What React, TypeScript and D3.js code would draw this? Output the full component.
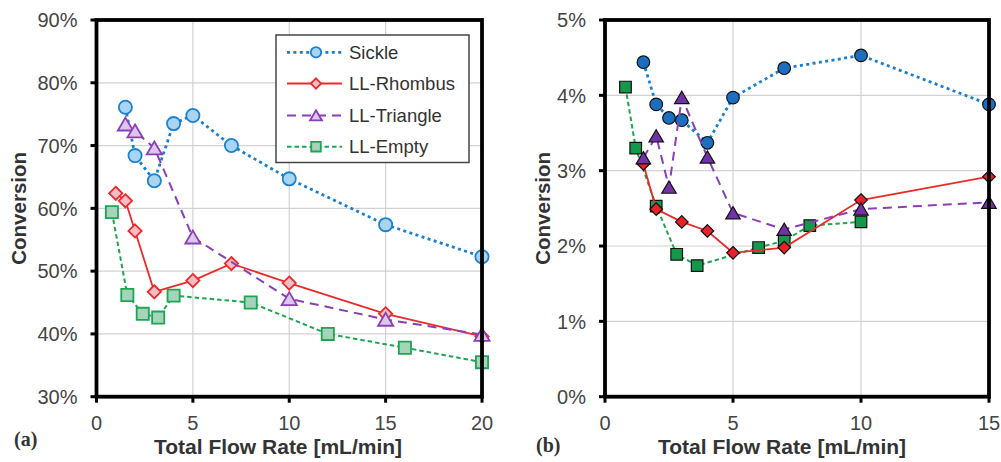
import * as d3 from 'd3';
import React from 'react';

// panel (a) values, conversion in %
const sickleAx = [1.5, 2, 3, 4, 5, 7, 10, 15, 20];
const sickleAy = [76.1, 68.4, 64.4, 73.5, 74.8, 70.0, 64.7, 57.4, 52.3];
const rhombusAx = [1, 1.5, 2, 3, 5, 7, 10, 15, 20];
const rhombusAy = [62.4, 61.2, 56.4, 46.7, 48.5, 51.2, 48.1, 43.2, 39.6];
const triangleAx = [1.5, 2, 3, 5, 10, 15, 20];
const triangleAy = [73.4, 72.3, 69.6, 55.4, 45.6, 42.3, 39.9];
const emptyAx = [0.8, 1.6, 2.4, 3.2, 4, 8, 12, 16, 20];
const emptyAy = [59.4, 46.2, 43.2, 42.6, 46.1, 45.0, 40.0, 37.8, 35.5];

// panel (b) values, conversion in %
const sickleBx = [1.5, 2, 2.5, 3, 4, 5, 7, 10, 15];
const sickleBy = [4.44, 3.88, 3.7, 3.67, 3.37, 3.97, 4.36, 4.53, 3.88];
const rhombusBx = [1.5, 2, 3, 4, 5, 7, 10, 15];
const rhombusBy = [3.09, 2.49, 2.32, 2.2, 1.91, 1.98, 2.61, 2.92];
const triangleBx = [1.5, 2, 2.5, 3, 4, 5, 7, 10, 15];
const triangleBy = [3.17, 3.46, 2.78, 3.97, 3.18, 2.44, 2.22, 2.49, 2.58];
const emptyBx = [0.8, 1.2, 2, 2.8, 3.6, 6, 7, 8, 10];
const emptyBy = [4.11, 3.3, 2.53, 1.89, 1.74, 1.98, 2.07, 2.27, 2.32];

const seriesNames = ['Sickle', 'LL-Rhombus', 'LL-Triangle', 'LL-Empty'];
const yTicksA = [30, 40, 50, 60, 70, 80, 90];
const xTicksA = [0, 5, 10, 15, 20];
const yTicksB = [0, 1, 2, 3, 4, 5];
const xTicksB = [0, 5, 10, 15];

const font = "'Liberation Sans', Arial, sans-serif";

const lineStyles = {
  Sickle: { stroke: '#1a7fcc', width: 2.8, dash: '3 3.4' },
  'LL-Rhombus': { stroke: '#ec2a2a', width: 1.8, dash: null },
  'LL-Triangle': { stroke: '#8a3fb8', width: 2, dash: '9 6' },
  'LL-Empty': { stroke: '#1fa552', width: 2, dash: '4.5 3' },
};

const lightMarkers = {
  Sickle: { fill: '#a9d5f2', stroke: '#1a82d0' },
  'LL-Rhombus': { fill: '#f7bcc6', stroke: '#ec2a2a' },
  'LL-Triangle': { fill: '#dcc6ec', stroke: '#8a3fb8' },
  'LL-Empty': { fill: '#a5d4bd', stroke: '#1fa552' },
};

const darkMarkers = {
  Sickle: { fill: '#1c6fc0', stroke: '#111' },
  'LL-Rhombus': { fill: '#e8212a', stroke: '#111' },
  'LL-Triangle': { fill: '#7232a6', stroke: '#111' },
  'LL-Empty': { fill: '#14994c', stroke: '#111' },
};

function markerPath(name, s) {
  if (name === 'Sickle') {
    return d3.symbol(d3.symbolCircle, Math.PI * s * s)();
  }
  if (name === 'LL-Rhombus') {
    return `M0,${-s}L${s},0L0,${s}L${-s},0Z`;
  }
  if (name === 'LL-Triangle') {
    const w = s * 1.15;
    return `M0,${-s}L${w},${s * 0.95}L${-w},${s * 0.95}Z`;
  }
  return `M${-s * 0.92},${-s * 0.92}H${s * 0.92}V${s * 0.92}H${-s * 0.92}Z`;
}

function Series({ name, xs, ys, x, y, markers, size, sw }) {
  const st = lineStyles[name];
  const pts = xs.map((v, i) => [x(v), y(ys[i])]);
  const line = d3.line()(pts);
  const mk = markers[name];
  const sym = markerPath(name, size);
  return (
    <g>
      <path d={line} fill="none" stroke={st.stroke} strokeWidth={st.width}
        strokeDasharray={st.dash || undefined} />
      {pts.map((p, i) => (
        <path key={i} d={sym} transform={`translate(${p[0]},${p[1]})`}
          fill={mk.fill} stroke={mk.stroke} strokeWidth={sw} />
      ))}
    </g>
  );
}

function Panel({ x, y, xTicks, yTicks, label, labelX, labelY, titleX, yTitleX, series, markers, size, sw, children }) {
  const [x0, x1] = x.range();
  const [y0, y1] = y.range();
  return (
    <g fontFamily={font}>
      {xTicks.slice(1, -1).map((t) => (
        <line key={'gx' + t} x1={x(t)} x2={x(t)} y1={y1} y2={y0} stroke="#d2d2d2" strokeWidth={1.2} />
      ))}
      {yTicks.slice(1, -1).map((t) => (
        <line key={'gy' + t} x1={x0} x2={x1} y1={y(t)} y2={y(t)} stroke="#d2d2d2" strokeWidth={1.2} />
      ))}
      {children}
      {series.map((s) => (
        <Series key={s.name} {...s} x={x} y={y} markers={markers} size={size} sw={sw} />
      ))}
      <rect x={x0} y={y1} width={x1 - x0} height={y0 - y1} fill="none" stroke="#000" strokeWidth={3.8} />
      {yTicks.map((t) => (
        <g key={'ty' + t}>
          <line x1={x0 - 6} x2={x0} y1={y(t)} y2={y(t)} stroke="#000" strokeWidth={3} />
          <text x={x0 - 19} y={y(t)} dy="0.36em" textAnchor="end" fontSize={20} fill="#444">{t}%</text>
        </g>
      ))}
      {xTicks.map((t) => (
        <g key={'tx' + t}>
          <line x1={x(t)} x2={x(t)} y1={y0} y2={y0 + 6} stroke="#000" strokeWidth={3} />
          <text x={x(t)} y={y0 + 33} textAnchor="middle" fontSize={20} fill="#444">{t}</text>
        </g>
      ))}
      <text x={titleX} y={454} textAnchor="middle" fontSize={21} fontWeight="bold" fill="#333">Total Flow Rate [mL/min]</text>
      <text transform={`translate(${yTitleX},${(y0 + y1) / 2}) rotate(-90)`} textAnchor="middle"
        fontSize={20.5} fontWeight="bold" fill="#333">Conversion</text>
      <text x={labelX} y={labelY} fontFamily="'Liberation Serif', 'Times New Roman', serif" fontWeight="bold"
        fontSize={20} fill="#333">{label}</text>
    </g>
  );
}

function Legend() {
  const x0 = 276;
  const y0 = 35;
  const rows = [52.3, 83.5, 115.5, 146.7];
  return (
    <g fontFamily={font}>
      <rect x={x0} y={y0} width={193} height={127.5} fill="#fff" stroke="#444" strokeWidth={1.5} />
      {seriesNames.map((n, i) => {
        const st = lineStyles[n];
        const mk = lightMarkers[n];
        return (
          <g key={n} transform={`translate(0,${rows[i]})`}>
            <line x1={287} x2={342} y1={0} y2={0} stroke={st.stroke} strokeWidth={st.width}
              strokeDasharray={st.dash || undefined} />
            <path d={markerPath(n, 5.2)} transform="translate(316,0)" fill={mk.fill} stroke={mk.stroke} strokeWidth={1.8} />
            <text x={349} y={0} dy="0.36em" fontSize={18.5} fill="#333">{n}</text>
          </g>
        );
      })}
    </g>
  );
}

export default function App() {
  const xA = d3.scaleLinear().domain([0, 20]).range([96.5, 482]);
  const yA = d3.scaleLinear().domain([30, 90]).range([396.7, 20]);
  const xB = d3.scaleLinear().domain([0, 15]).range([605, 989]);
  const yB = d3.scaleLinear().domain([0, 5]).range([396.7, 20]);

  const seriesA = [
    { name: 'LL-Empty', xs: emptyAx, ys: emptyAy },
    { name: 'Sickle', xs: sickleAx, ys: sickleAy },
    { name: 'LL-Rhombus', xs: rhombusAx, ys: rhombusAy },
    { name: 'LL-Triangle', xs: triangleAx, ys: triangleAy },
  ];
  const seriesB = [
    { name: 'LL-Empty', xs: emptyBx, ys: emptyBy },
    { name: 'Sickle', xs: sickleBx, ys: sickleBy },
    { name: 'LL-Rhombus', xs: rhombusBx, ys: rhombusBy },
    { name: 'LL-Triangle', xs: triangleBx, ys: triangleBy },
  ];

  return (
    <div style={{ position: 'absolute', left: 0, top: 0 }}>
      <svg width={1001} height={462} style={{ display: 'block', background: '#fff' }}>
        <Panel x={xA} y={yA} xTicks={xTicksA} yTicks={yTicksA} label="(a)" labelX={14} labelY={446}
          titleX={278} yTitleX={25.5} series={seriesA} markers={lightMarkers} size={6.6} sw={1.8} />
        <Legend />
        <Panel x={xB} y={yB} xTicks={xTicksB} yTicks={yTicksB} label="(b)" labelX={536} labelY={452}
          titleX={782} yTitleX={550} series={seriesB} markers={darkMarkers} size={6.3} sw={1.2} />
      </svg>
    </div>
  );
}
